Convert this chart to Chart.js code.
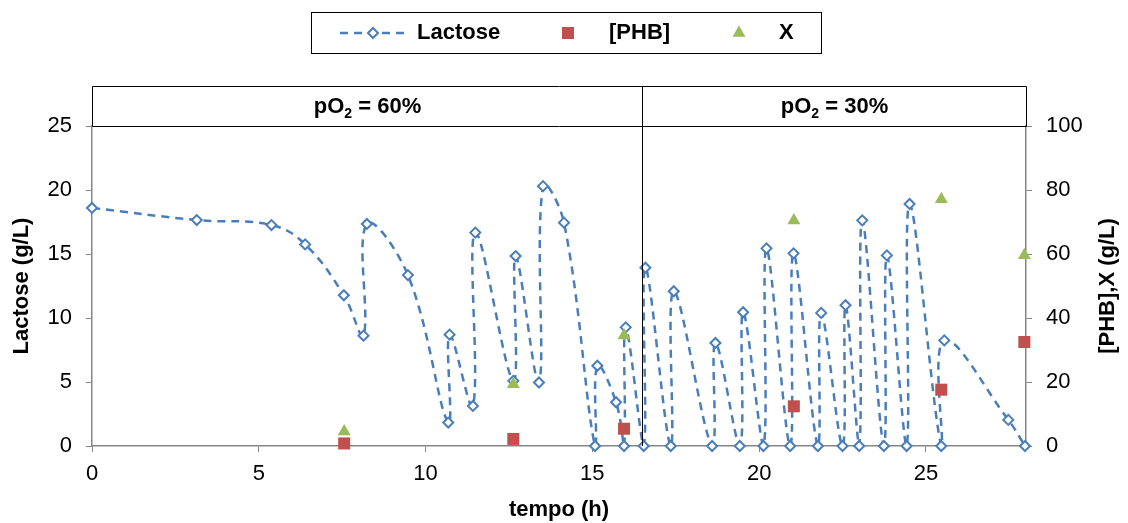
<!DOCTYPE html>
<html>
<head>
<meta charset="utf-8">
<script src="https://cdn.jsdelivr.net/npm/chart.js@4.4.1/dist/chart.umd.min.js"></script>
<style>
html, body { margin: 0; padding: 0; background: #fff; }
</style>
</head>
<body>
<canvas id="myChart" width="1128" height="523"></canvas>
<script>
// lactose samples (h, g/L)
const lactoseTime = [0, 3.14, 5.38, 6.39, 7.55, 8.14, 8.24, 9.47, 10.68, 10.72, 11.42, 11.49,
    12.63, 12.70, 13.40, 13.52, 14.15, 15.08, 15.15, 15.71, 15.95, 16.0, 16.54, 16.59,
    17.35, 17.44, 18.59, 18.69, 19.42, 19.52, 20.13, 20.22, 20.93, 21.03, 21.76, 21.86,
    22.5, 22.59, 23.0, 23.09, 23.74, 23.83, 24.42, 24.51, 25.46, 25.55, 27.47, 27.97];
const lactose = [18.6, 17.65, 17.26, 15.75, 11.78, 8.62, 17.35, 13.35, 1.83, 8.7, 3.13, 16.67,
    5.09, 14.84, 4.96, 20.3, 17.45, 0, 6.27, 3.42, 0, 9.27, 0, 13.93,
    0, 12.09, 0, 8.05, 0, 10.45, 0, 15.44, 0, 15.05, 0, 10.4,
    0, 11.0, 0, 17.63, 0, 14.89, 0, 18.91, 0, 8.25, 2.04, 0];

// PHB and biomass (right axis)
const sampleTime = [7.56, 12.63, 15.95, 21.04, 25.46, 27.95];
const phb = [0.8, 2.2, 5.4, 12.4, 17.6, 32.5];
const biomass = [4.5, 19.3, 34.5, 70.5, 77.1, 59.6];

const xTicks = [0, 5, 10, 15, 20, 25];
const phaseSplit = 16.5;
const phaseLabels = ['60%', '30%'];
const rightTitle = '[PHB],X (g/L)';

const FONT = "'Liberation Sans', Arial, sans-serif";
const BLUE = '#4a7ebb';
const RED = '#c0504d';
const GREEN = '#9bbb59';
const AXIS = '#868686';

function pairs(xs, ys) {
    return xs.map((x, i) => ({ x: x, y: ys[i] }));
}

// pO2 band above the plot + split line
const phaseBand = {
    id: 'phaseBand',
    afterDraw(chart) {
        const ctx = chart.ctx;
        const ca = chart.chartArea;
        const xs = chart.scales.x;
        const split = Math.round(xs.getPixelForValue(phaseSplit)) + 0.5;
        const top = 86.5;
        const l = Math.round(ca.left) + 0.5;
        const r = Math.round(ca.right) + 0.5;
        const t = Math.round(ca.top) + 0.5;
        ctx.save();
        ctx.strokeStyle = '#000';
        ctx.lineWidth = 1;
        ctx.beginPath();
        ctx.moveTo(l, t); ctx.lineTo(l, top); ctx.lineTo(r, top); ctx.lineTo(r, t);
        ctx.moveTo(l, t); ctx.lineTo(r, t);
        ctx.moveTo(split, top); ctx.lineTo(split, Math.round(ca.bottom));
        ctx.stroke();

        const centers = [(l + split) / 2, (split + r) / 2];
        const cy = 107;
        ctx.fillStyle = '#000';
        ctx.textBaseline = 'middle';
        ctx.textAlign = 'left';
        centers.forEach((cx, i) => {
            const big = 'bold 22px ' + FONT;
            const small = 'bold 14px ' + FONT;
            const rest = ' = ' + phaseLabels[i];
            ctx.font = big;
            const w1 = ctx.measureText('pO').width;
            const w3 = ctx.measureText(rest).width;
            ctx.font = small;
            const w2 = ctx.measureText('2').width;
            let x = cx - (w1 + w2 + w3) / 2;
            ctx.font = big;
            ctx.fillText('pO', x, cy);
            x += w1;
            ctx.font = small;
            ctx.fillText('2', x, cy + 7);
            x += w2;
            ctx.font = big;
            ctx.fillText(rest, x, cy);
        });

        // right axis title reads bottom to top, like the left one
        ctx.translate(1108, (ca.top + ca.bottom) / 2);
        ctx.rotate(-Math.PI / 2);
        ctx.textAlign = 'center';
        ctx.font = 'bold 22px ' + FONT;
        ctx.fillText(rightTitle, 0, 0);
        ctx.restore();
    }
};

// boxed legend at the top
const boxLegend = {
    id: 'boxLegend',
    afterDraw(chart) {
        const ctx = chart.ctx;
        const ds = chart.data.datasets;
        const cy = 33;
        ctx.save();
        ctx.strokeStyle = '#000';
        ctx.lineWidth = 1;
        ctx.strokeRect(311.5, 12.5, 510, 41);

        ctx.strokeStyle = BLUE;
        ctx.lineWidth = 2.5;
        ctx.setLineDash([8, 6]);
        ctx.beginPath();
        ctx.moveTo(340, cy); ctx.lineTo(406, cy);
        ctx.stroke();
        ctx.setLineDash([]);

        const items = [
            { ds: ds[0], mx: 373, tx: 417 },
            { ds: ds[1], mx: 568, tx: 609 },
            { ds: ds[2], mx: 739, tx: 779 }
        ];
        ctx.font = 'bold 22px ' + FONT;
        ctx.textBaseline = 'middle';
        items.forEach(it => {
            ctx.fillStyle = it.ds.pointBackgroundColor;
            ctx.strokeStyle = it.ds.pointBorderColor;
            ctx.lineWidth = it.ds.pointBorderWidth;
            Chart.helpers.drawPoint(ctx, {
                pointStyle: it.ds.pointStyle,
                radius: it.ds.pointRadius,
                rotation: 0,
                borderWidth: it.ds.pointBorderWidth
            }, it.mx, cy);
            ctx.fillStyle = '#000';
            ctx.fillText(it.ds.label, it.tx, cy);
        });
        ctx.restore();
    }
};

new Chart('myChart', {
    type: 'scatter',
    data: {
        datasets: [{
            label: 'Lactose',
            data: pairs(lactoseTime, lactose),
            yAxisID: 'y',
            showLine: true,
            borderColor: BLUE,
            borderWidth: 2.5,
            borderDash: [8, 6],
            tension: 0.4,
            pointStyle: 'rectRot',
            pointRadius: 5,
            pointBorderWidth: 2,
            pointBorderColor: BLUE,
            pointBackgroundColor: '#fff',
            clip: 10,
            order: 2
        }, {
            label: '[PHB]',
            data: pairs(sampleTime, phb),
            yAxisID: 'y2',
            pointStyle: 'rect',
            pointRadius: 8.5,
            pointBorderWidth: 0,
            pointBorderColor: RED,
            pointBackgroundColor: RED,
            clip: 10,
            order: 1
        }, {
            label: 'X',
            data: pairs(sampleTime, biomass),
            yAxisID: 'y2',
            pointStyle: 'triangle',
            pointRadius: 7.5,
            pointBorderWidth: 0,
            pointBorderColor: GREEN,
            pointBackgroundColor: GREEN,
            clip: 10,
            order: 1
        }]
    },
    options: {
        responsive: false,
        animation: false,
        layout: { padding: { top: 126, left: 0, right: 0, bottom: 0 } },
        plugins: {
            legend: { display: false },
            tooltip: { enabled: false }
        },
        scales: {
            x: {
                type: 'linear',
                min: 0,
                max: 28,
                afterBuildTicks: axis => { axis.ticks = xTicks.map(v => ({ value: v })); },
                afterFit: axis => { axis.height = 77; },
                grid: { drawOnChartArea: false, color: AXIS, tickLength: 6 },
                border: { color: AXIS, width: 1.5 },
                ticks: { color: '#000', font: { family: FONT, size: 22 }, padding: 9, maxRotation: 0 },
                title: {
                    display: true, text: 'tempo (h)', color: '#000',
                    font: { family: FONT, size: 22, weight: 'bold' }, padding: { top: 0, bottom: 0 }
                }
            },
            y: {
                position: 'left',
                min: 0,
                max: 25,
                afterFit: axis => { axis.width = 92; },
                grid: { drawOnChartArea: false, color: AXIS, tickLength: 6 },
                border: { color: AXIS, width: 1.5 },
                ticks: { stepSize: 5, color: '#000', font: { family: FONT, size: 22 }, padding: 14 },
                title: {
                    display: true, text: 'Lactose (g/L)', color: '#000',
                    font: { family: FONT, size: 22, weight: 'bold' }, padding: { top: 9, bottom: 0 }
                }
            },
            y2: {
                position: 'right',
                min: 0,
                max: 100,
                afterFit: axis => { axis.width = 102; },
                grid: { drawOnChartArea: false, color: AXIS, tickLength: 6 },
                border: { color: AXIS, width: 1.5 },
                ticks: { stepSize: 20, color: '#000', font: { family: FONT, size: 22 }, padding: 14 }
            }
        }
    },
    plugins: [phaseBand, boxLegend]
});
</script>
</body>
</html>
